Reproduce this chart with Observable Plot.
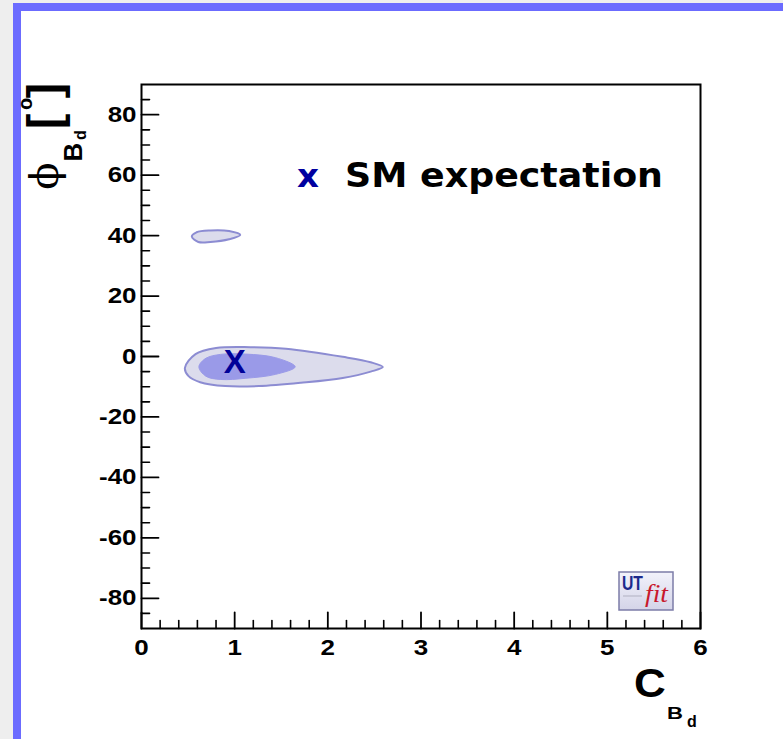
<!DOCTYPE html>
<html><head><meta charset="utf-8">
<script src="https://cdn.jsdelivr.net/npm/d3@7"></script>
<script src="https://cdn.jsdelivr.net/npm/@observablehq/plot@0.6"></script>
<style>
html,body{margin:0;padding:0;background:#eeeeee;}
#wrap{position:relative;width:783px;height:739px;overflow:hidden;background:#eeeeee;}
#panel{position:absolute;left:13px;top:3px;width:800px;height:800px;box-sizing:border-box;border:8px solid #6b6bff;background:#fff;}
#chart{position:absolute;left:0;top:0;}
</style></head><body>
<div id="wrap"><div id="panel"></div><div id="chart"></div></div>
<script>
// ---- data ----
const xTickLabels = [0, 1, 2, 3, 4, 5, 6];
const yTickLabels = [-80, -60, -40, -20, 0, 20, 40, 60, 80];
const xDomain = [0, 6];
const yDomain = [-90, 90];
// 68% / 95% probability contours in (C_Bd, phi_Bd [deg])
const outerContour = [
  [0.466, -3.8], [0.58, 0.8], [0.80, 2.8], [1.17, 3.1], [1.55, 2.6], [2.16, -0.1],
  [2.46, -1.9], [2.59, -3.5], [2.46, -5.0], [2.16, -7.1], [1.71, -8.7], [1.26, -9.8],
  [0.90, -9.8], [0.63, -8.5], [0.505, -6.5]
];
const islandContour = [
  [0.54, 39.7], [0.59, 41.1], [0.74, 41.7], [0.94, 41.5], [1.06, 40.2],
  [0.94, 38.8], [0.74, 37.9], [0.61, 37.9]
];
const innerContour = [
  [0.616, -3.4], [0.69, -0.6], [0.85, 0.7], [1.12, 0.8], [1.44, -0.4], [1.65, -3.4],
  [1.44, -5.9], [1.12, -7.2], [0.85, -7.6], [0.69, -6.5]
];
const smPoint = [{C: 1, phi: 0}];
const legendLabel = "SM expectation";

// minor ticks (axis decoration)
const xMinor = d3.range(0, 6.001, 0.2).map(v => +v.toFixed(1)).filter(v => Math.abs(v - Math.round(v)) > 1e-6);
const yMinor = d3.range(-85, 86, 5).filter(v => v % 20 !== 0);

const tickShape = {draw(ctx, l) { ctx.moveTo(0, 0); ctx.lineTo(0, -l); }};

const outerStyle = {x: d => d[0], y: d => d[1], curve: "catmull-rom-closed", fill: "#dcdcec", stroke: "#8c8cd2", strokeWidth: 2};

const plot = Plot.plot({
  width: 783, height: 739,
  marginLeft: 141, marginRight: 83, marginTop: 84, marginBottom: 111,
  style: {background: "transparent", fontFamily: "'Liberation Sans', Arial, sans-serif", overflow: "visible", color: "black"},
  x: {domain: xDomain, label: null},
  y: {domain: yDomain, label: null},
  marks: [
    Plot.line(outerContour, outerStyle),
    Plot.line(islandContour, outerStyle),
    Plot.line(innerContour, {x: d => d[0], y: d => d[1], curve: "catmull-rom-closed", fill: "#9a9ae8", stroke: "#9a9ae8", strokeWidth: 1}),
    Plot.text(smPoint, {x: "C", y: "phi", text: () => "X", fontSize: 33, fontWeight: "bold", fill: "#000099", dy: 6}),
    Plot.frame({stroke: "black", strokeWidth: 2}),
    Plot.vector(xTickLabels, {x: d => d, frameAnchor: "bottom", length: 16, rotate: 0, anchor: "start", shape: tickShape, stroke: "black", strokeWidth: 1.8}),
    Plot.vector(xMinor, {x: d => d, frameAnchor: "bottom", length: 8, rotate: 0, anchor: "start", shape: tickShape, stroke: "black", strokeWidth: 1.6}),
    Plot.vector(yTickLabels, {y: d => d, frameAnchor: "left", length: 17, rotate: 90, anchor: "start", shape: tickShape, stroke: "black", strokeWidth: 1.8}),
    Plot.vector(yMinor, {y: d => d, frameAnchor: "left", length: 8, rotate: 90, anchor: "start", shape: tickShape, stroke: "black", strokeWidth: 1.6}),
    Plot.axisX(xTickLabels, {tickSize: 0, tickPadding: 11, fontSize: 22, fontWeight: "bold", tickFormat: d => String(d), label: null}),
    Plot.axisY(yTickLabels, {tickSize: 0, tickPadding: 5, fontSize: 22, fontWeight: "bold", tickFormat: d => String(d), label: null})
  ]
});
document.getElementById("chart").appendChild(plot);

const svg = d3.select(plot);
// horizontal stretch of tick labels, as in the reference
svg.selectAll('g[aria-label="x-axis tick label"] text, g[aria-label="y-axis tick label"] text')
  .attr("transform", function() { return (this.getAttribute("transform") || "") + " scale(1.18,1)"; });

const sans = "'Liberation Sans', Arial, sans-serif";
function txt(g, s, x, y, opts = {}) {
  const t = g.append("text").attr("x", x).attr("y", y).text(s)
    .attr("font-family", opts.family || sans)
    .attr("font-size", opts.size || 20)
    .attr("font-weight", opts.weight || "bold")
    .attr("fill", opts.fill || "black")
    .attr("text-anchor", opts.anchor || "start");
  if (opts.style) t.attr("font-style", opts.style);
  if (opts.len) t.attr("textLength", opts.len).attr("lengthAdjust", "spacingAndGlyphs");
  if (opts.transform) t.attr("transform", opts.transform);
  return t;
}

// x title  C_{B_d}
const gx = svg.append("g");
txt(gx, "C", 0, 0, {size: 40, transform: "translate(634,697) scale(1.1,1)"});
txt(gx, "B", 0, 0, {size: 17, transform: "translate(667,719) scale(1.3,1)"});
txt(gx, "d", 0, 0, {size: 16, transform: "translate(687,727)"});

// y title  phi_{B_d} [deg]  (rotated)
const gy = svg.append("g");
txt(gy, "\u03D5", 0, 0, {family: "'DejaVu Serif', serif", weight: "normal", size: 40, anchor: "middle", transform: "translate(58,176) rotate(-90)"});
txt(gy, "B", 0, 0, {size: 26, anchor: "middle", transform: "translate(82,152) rotate(-90)"});
txt(gy, "d", 0, 0, {size: 16, anchor: "middle", transform: "translate(86,135) rotate(-90)"});
txt(gy, "[", 0, 0, {size: 46, anchor: "start", transform: "translate(60,129) rotate(-90)"});
txt(gy, "o", 0, 0, {size: 20, anchor: "middle", transform: "translate(32,104) rotate(-90)"});
txt(gy, "]", 0, 0, {size: 46, anchor: "end", transform: "translate(60,83) rotate(-90)"});

// legend
const gl = svg.append("g");
txt(gl, "x", 297, 187, {family: "'DejaVu Sans', sans-serif", size: 32, fill: "#0000a0", len: 22});
txt(gl, legendLabel, 345, 187, {family: "'DejaVu Sans', sans-serif", size: 33, len: 318});

// UTfit logo
const defs = svg.append("defs");
const lg = defs.append("linearGradient").attr("id", "logoGrad").attr("x1", 0).attr("y1", 0).attr("x2", 0).attr("y2", 1);
lg.append("stop").attr("offset", 0).attr("stop-color", "#f2f2fb");
lg.append("stop").attr("offset", 1).attr("stop-color", "#d4d4e8");
const glogo = svg.append("g");
glogo.append("rect").attr("x", 619).attr("y", 572).attr("width", 54).attr("height", 38)
  .attr("fill", "url(#logoGrad)").attr("stroke", "#7c7ca8").attr("stroke-width", 1.5);
glogo.append("rect").attr("x", 623).attr("y", 595).attr("width", 19).attr("height", 2).attr("fill", "#c8c8d8");
txt(glogo, "UT", 622, 590, {size: 20, fill: "#1c2a8c", len: 21});
txt(glogo, "fit", 645, 602, {family: "'Liberation Serif', serif", size: 25, weight: "normal", style: "italic", fill: "#c8182c", len: 23});
</script>
</body></html>
